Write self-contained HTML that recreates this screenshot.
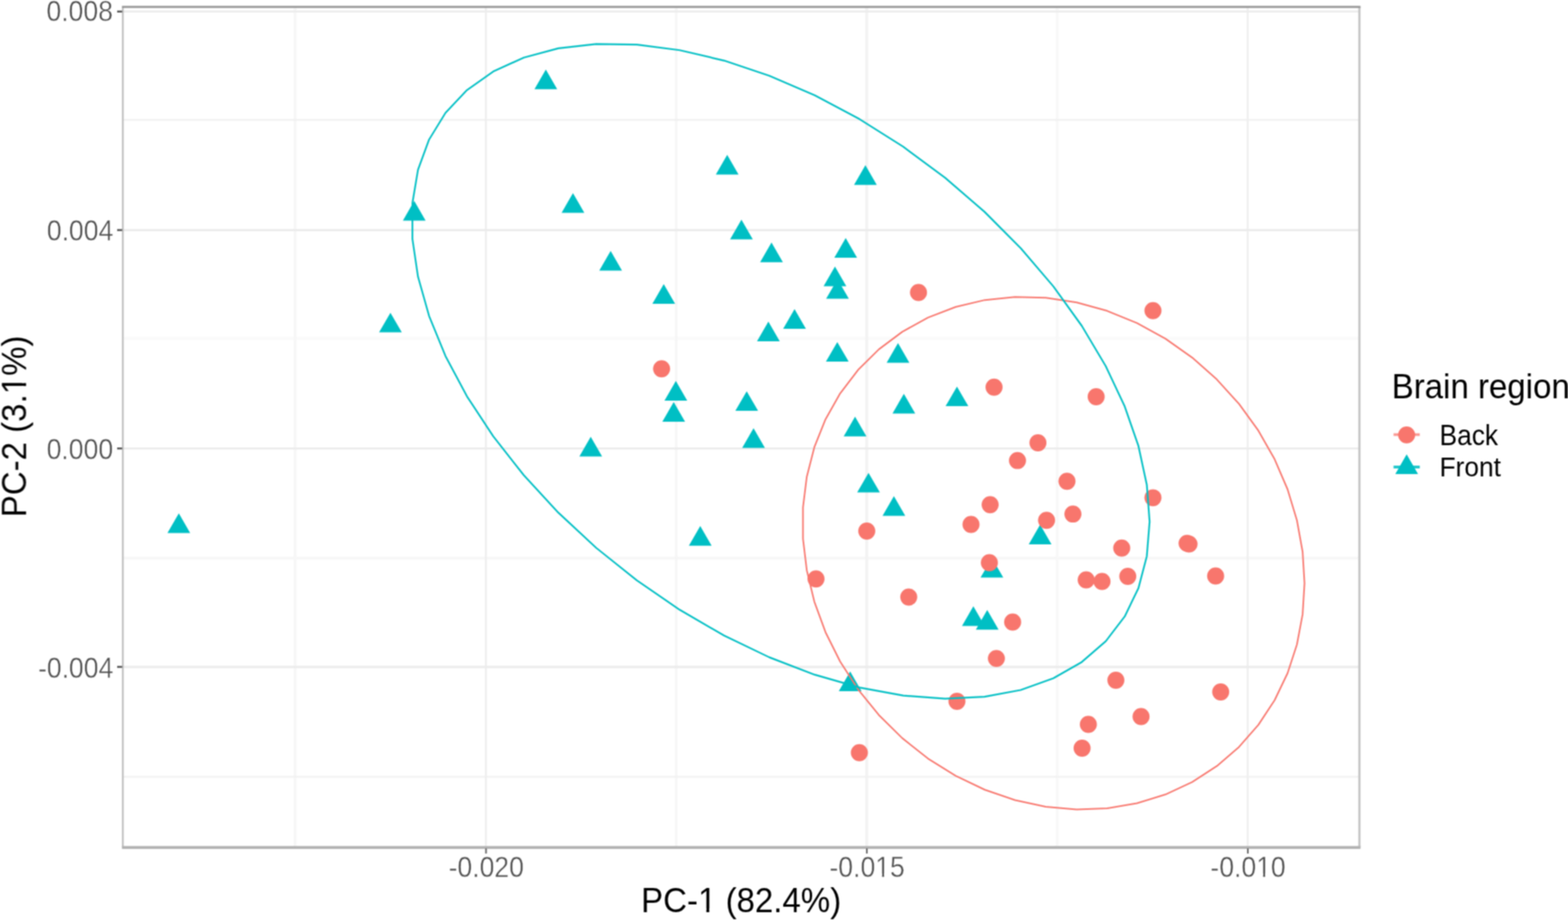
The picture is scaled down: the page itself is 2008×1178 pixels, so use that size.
<!DOCTYPE html>
<html lang="en"><head><meta charset="utf-8"><title>PCA plot</title>
<style>html,body{margin:0;padding:0;background:#fff}body{width:2008px;height:1178px;overflow:hidden}svg{display:block}text{font-family:"Liberation Sans",Arial,Helvetica,sans-serif}</style></head><body>
<svg width="2008" height="1178" viewBox="0 0 2008 1178">
<rect x="0" y="0" width="2008" height="1178" fill="#fff"/>
<defs><filter id="soft" x="0" y="0" width="2008" height="1178" filterUnits="userSpaceOnUse" color-interpolation-filters="sRGB"><feConvolveMatrix order="3" kernelMatrix="1 2 1 2 4 2 1 2 1" divisor="16" edgeMode="duplicate" preserveAlpha="false"/></filter></defs>
<g id="plot" filter="url(#soft)">
<g fill="none">
<line x1="157.5" y1="433.4" x2="1741.2" y2="433.4" stroke="#FAFAFA" stroke-width="3.6"/>
<line x1="1353.7" y1="8.6" x2="1353.7" y2="1084.7" stroke="#F8F8F8" stroke-width="3.8"/>
<line x1="377.9" y1="8.6" x2="377.9" y2="1084.7" stroke="#F7F7F7" stroke-width="3.8"/>
<line x1="157.5" y1="714.6" x2="1741.2" y2="714.6" stroke="#F7F7F7" stroke-width="3.8"/>
<line x1="866.0" y1="8.6" x2="866.0" y2="1084.7" stroke="#F5F5F5" stroke-width="3.0"/>
<line x1="1109.9" y1="8.6" x2="1109.9" y2="1084.7" stroke="#F3F3F3" stroke-width="3.8"/>
<line x1="157.5" y1="994.6" x2="1741.2" y2="994.6" stroke="#F2F2F2" stroke-width="2.2"/>
<line x1="1597.8" y1="8.6" x2="1597.8" y2="1084.7" stroke="#EFEFEF" stroke-width="2.6"/>
<line x1="157.5" y1="153.5" x2="1741.2" y2="153.5" stroke="#EFEFEF" stroke-width="1.8"/>
<line x1="622.2" y1="8.6" x2="622.2" y2="1084.7" stroke="#EEEEEE" stroke-width="2.4"/>
<line x1="157.5" y1="14.8" x2="1741.2" y2="14.8" stroke="#ECECEC" stroke-width="2.6"/>
<line x1="157.5" y1="853.9" x2="1741.2" y2="853.9" stroke="#ECECEC" stroke-width="3.0"/>
<line x1="157.5" y1="294.6" x2="1741.2" y2="294.6" stroke="#EBEBEB" stroke-width="2.6"/>
<line x1="157.5" y1="574.2" x2="1741.2" y2="574.2" stroke="#EBEBEB" stroke-width="2.6"/>
</g>
<g fill="#00BFC4">
<polygon points="229.00,657.20 243.55,682.40 214.45,682.40"/>
<polygon points="500.00,400.40 514.55,425.60 485.45,425.60"/>
<polygon points="530.50,257.20 545.05,282.40 515.95,282.40"/>
<polygon points="699.00,89.00 713.55,114.20 684.45,114.20"/>
<polygon points="733.75,247.20 748.30,272.40 719.20,272.40"/>
<polygon points="756.50,559.20 771.05,584.40 741.95,584.40"/>
<polygon points="782.00,321.20 796.55,346.40 767.45,346.40"/>
<polygon points="850.00,363.70 864.55,388.90 835.45,388.90"/>
<polygon points="865.50,487.70 880.05,512.90 850.95,512.90"/>
<polygon points="862.75,514.70 877.30,539.90 848.20,539.90"/>
<polygon points="896.75,673.50 911.30,698.70 882.20,698.70"/>
<polygon points="931.25,198.20 945.80,223.40 916.70,223.40"/>
<polygon points="949.50,281.20 964.05,306.40 934.95,306.40"/>
<polygon points="956.25,500.90 970.80,526.10 941.70,526.10"/>
<polygon points="965.00,548.20 979.55,573.40 950.45,573.40"/>
<polygon points="984.00,411.80 998.55,437.00 969.45,437.00"/>
<polygon points="988.00,310.60 1002.55,335.80 973.45,335.80"/>
<polygon points="1017.50,395.80 1032.05,421.00 1002.95,421.00"/>
<polygon points="1069.25,341.20 1083.80,366.40 1054.70,366.40"/>
<polygon points="1072.50,357.40 1087.05,382.60 1057.95,382.60"/>
<polygon points="1072.25,437.90 1086.80,463.10 1057.70,463.10"/>
<polygon points="1083.00,304.80 1097.55,330.00 1068.45,330.00"/>
<polygon points="1088.75,859.70 1103.30,884.90 1074.20,884.90"/>
<polygon points="1095.00,533.60 1109.55,558.80 1080.45,558.80"/>
<polygon points="1108.25,211.50 1122.80,236.70 1093.70,236.70"/>
<polygon points="1112.25,605.40 1126.80,630.60 1097.70,630.60"/>
<polygon points="1144.75,635.20 1159.30,660.40 1130.20,660.40"/>
<polygon points="1150.00,439.20 1164.55,464.40 1135.45,464.40"/>
<polygon points="1157.50,504.20 1172.05,529.40 1142.95,529.40"/>
<polygon points="1225.50,494.90 1240.05,520.10 1210.95,520.10"/>
<polygon points="1246.50,776.20 1261.05,801.40 1231.95,801.40"/>
<polygon points="1264.25,781.00 1278.80,806.20 1249.70,806.20"/>
<polygon points="1270.25,714.40 1284.80,739.60 1255.70,739.60"/>
<polygon points="1332.00,671.80 1346.55,697.00 1317.45,697.00"/>
</g>
<g fill="#F8766D">
<circle cx="847.25" cy="472.25" r="10.9"/>
<circle cx="1045" cy="741.25" r="10.9"/>
<circle cx="1100.5" cy="963.75" r="10.9"/>
<circle cx="1110" cy="680" r="10.9"/>
<circle cx="1163.75" cy="764.5" r="10.9"/>
<circle cx="1176.25" cy="374.5" r="10.9"/>
<circle cx="1225.5" cy="898" r="10.9"/>
<circle cx="1243.5" cy="671.5" r="10.9"/>
<circle cx="1268" cy="646.25" r="10.9"/>
<circle cx="1267" cy="720.5" r="10.9"/>
<circle cx="1273" cy="495.75" r="10.9"/>
<circle cx="1276" cy="843.1" r="10.9"/>
<circle cx="1296.8" cy="796.5" r="10.9"/>
<circle cx="1303" cy="589.7" r="10.9"/>
<circle cx="1329.2" cy="567" r="10.9"/>
<circle cx="1340.25" cy="666.25" r="10.9"/>
<circle cx="1366.4" cy="616.25" r="10.9"/>
<circle cx="1374" cy="658.2" r="10.9"/>
<circle cx="1385.75" cy="958" r="10.9"/>
<circle cx="1391" cy="742.5" r="10.9"/>
<circle cx="1393.75" cy="927.5" r="10.9"/>
<circle cx="1403.75" cy="508" r="10.9"/>
<circle cx="1411.25" cy="744.5" r="10.9"/>
<circle cx="1429" cy="871" r="10.9"/>
<circle cx="1436.5" cy="701.75" r="10.9"/>
<circle cx="1444.25" cy="738" r="10.9"/>
<circle cx="1461.25" cy="917.5" r="10.9"/>
<circle cx="1476.5" cy="397.75" r="10.9"/>
<circle cx="1476.5" cy="637.3" r="10.9"/>
<circle cx="1520.2" cy="695.6" r="10.9"/>
<circle cx="1522.7" cy="696.6" r="10.9"/>
<circle cx="1556.75" cy="737.5" r="10.9"/>
<circle cx="1563.25" cy="886" r="10.9"/>
</g>
<path d="M1670.58,746.88 L1668.14,786.64 L1660.87,825.22 L1648.87,862.03 L1632.33,896.51 L1611.50,928.13 L1586.69,956.42 L1558.28,980.95 L1526.70,1001.34 L1492.42,1017.29 L1455.98,1028.56 L1417.91,1034.97 L1378.81,1036.43 L1339.25,1032.92 L1299.84,1024.48 L1261.18,1011.25 L1223.86,993.42 L1188.43,971.28 L1155.44,945.14 L1125.39,915.42 L1098.73,882.56 L1075.86,847.05 L1057.14,809.44 L1042.84,770.29 L1033.19,730.21 L1028.32,689.79 L1028.32,649.66 L1033.19,610.41 L1042.84,572.64 L1057.14,536.93 L1075.86,503.82 L1098.73,473.81 L1125.39,447.35 L1155.44,424.84 L1188.43,406.64 L1223.86,393.00 L1261.18,384.15 L1299.84,380.20 L1339.25,381.23 L1378.81,387.22 L1417.91,398.08 L1455.98,413.63 L1492.42,433.66 L1526.70,457.84 L1558.28,485.82 L1586.69,517.18 L1611.50,551.43 L1632.33,588.06 L1648.87,626.51 L1660.87,666.20 L1668.14,706.52Z" fill="none" stroke="#F8766D" stroke-width="2.0" stroke-linejoin="round"/>
<path d="M1472.21,667.88 L1468.62,712.20 L1457.94,752.92 L1440.30,789.44 L1415.99,821.19 L1385.36,847.70 L1348.89,868.56 L1307.13,883.46 L1260.71,892.17 L1210.33,894.56 L1156.76,890.59 L1100.81,880.33 L1043.33,863.92 L985.18,841.63 L927.26,813.77 L870.43,780.79 L815.57,743.18 L763.50,701.50 L715.00,656.39 L670.83,608.54 L631.64,558.67 L598.03,507.53 L570.51,455.90 L549.49,404.57 L535.30,354.30 L528.15,305.87 L528.15,260.01 L535.30,217.41 L549.49,178.72 L570.51,144.52 L598.03,115.33 L631.64,91.60 L670.83,73.69 L715.00,61.86 L763.50,56.30 L815.57,57.09 L870.43,64.22 L927.26,77.58 L985.18,96.97 L1043.33,122.09 L1100.81,152.56 L1156.76,187.93 L1210.33,227.65 L1260.71,271.12 L1307.13,317.69 L1348.89,366.65 L1385.36,417.25 L1415.99,468.73 L1440.30,520.31 L1457.94,571.21 L1468.62,620.65Z" fill="none" stroke="#00BFC4" stroke-width="2.2" stroke-linejoin="round"/>
<line x1="157.3" y1="8.9" x2="157.3" y2="1085.1" stroke="#BDBDBD" stroke-width="2.2"/>
<line x1="1740.9" y1="8.9" x2="1740.9" y2="1085.1" stroke="#C3C3C3" stroke-width="2.8"/>
<line x1="156.20000000000002" y1="8.9" x2="1742.3000000000002" y2="8.9" stroke="#989898" stroke-width="2.8"/>
<line x1="156.20000000000002" y1="1085.1" x2="1742.3000000000002" y2="1085.1" stroke="#B3B3B3" stroke-width="3.7"/>
<g fill="none">
<line x1="622.4" y1="1086.3" x2="622.4" y2="1092.8999999999999" stroke="#666666" stroke-width="2.1"/>
<line x1="1110.1" y1="1086.3" x2="1110.1" y2="1092.8999999999999" stroke="#666666" stroke-width="2.1"/>
<line x1="1598.0" y1="1086.3" x2="1598.0" y2="1092.8999999999999" stroke="#666666" stroke-width="2.1"/>
<line x1="150.0" y1="14.8" x2="156.5" y2="14.8" stroke="#555555" stroke-width="2.5"/>
<line x1="150.0" y1="294.6" x2="156.5" y2="294.6" stroke="#555555" stroke-width="2.5"/>
<line x1="150.0" y1="574.2" x2="156.5" y2="574.2" stroke="#555555" stroke-width="2.5"/>
<line x1="150.0" y1="853.9" x2="156.5" y2="853.9" stroke="#555555" stroke-width="2.5"/>
</g>
<g fill="#4D4D4D" stroke="#fff" stroke-width="0.45" font-size="34.0px">
<g transform="translate(622.7,1122.6) scale(1,1.07)"><text text-anchor="middle">-0.020</text></g>
<g transform="translate(1110.4,1122.6) scale(1,1.07)"><text text-anchor="middle">-0.015</text><rect x="12.37" y="-3.54" width="6.56" height="4.24" fill="#fff"/><rect x="21.93" y="-3.54" width="6.29" height="4.24" fill="#fff"/></g>
<g transform="translate(1598.3,1122.6) scale(1,1.07)"><text text-anchor="middle">-0.010</text><rect x="12.37" y="-3.54" width="6.56" height="4.24" fill="#fff"/><rect x="21.93" y="-3.54" width="6.29" height="4.24" fill="#fff"/></g>
<g transform="translate(144.6,27.3) scale(1,1.07)"><text text-anchor="end">0.008</text></g>
<g transform="translate(145.1,308.3) scale(1,1.07)"><text text-anchor="end">0.004</text></g>
<g transform="translate(144.8,587.9) scale(1,1.07)"><text text-anchor="end">0.000</text></g>
<g transform="translate(145.1,867.6) scale(1,1.07)"><text text-anchor="end">-0.004</text></g>
</g>
<g fill="#000" font-size="42.3px">
<g transform="translate(949.2,1167.9) scale(1,1.065)"><text text-anchor="middle">PC-1 (82.4%)</text><rect x="-52.79" y="-4.16" width="8.16" height="4.86" fill="#fff"/><rect x="-40.89" y="-4.16" width="7.83" height="4.86" fill="#fff"/></g>
<g transform="translate(33,546) rotate(-90) scale(1,1.065)"><text text-anchor="middle">PC-2 (3.1%)</text><rect x="43.58" y="-4.16" width="8.16" height="4.86" fill="#fff"/><rect x="55.48" y="-4.16" width="7.83" height="4.86" fill="#fff"/></g>
<g transform="translate(1782.2,510.2) scale(1,1.065)"><text text-anchor="start">Brain region</text></g>
</g>
<g fill="#000" font-size="33.8px">
<g transform="translate(1843.4,569.9) scale(1,1.075)"><text text-anchor="start">Back</text></g>
<g transform="translate(1843.4,609.5) scale(1,1.045)"><text text-anchor="start">Front</text></g>
</g>
<line x1="1784.6" y1="556.5" x2="1818.2" y2="556.5" stroke="#F8766D" stroke-opacity="0.72" stroke-width="3.4"/>
<circle cx="1801.35" cy="556.85" r="10.9" fill="#F8766D"/>
<line x1="1784.6" y1="598.0" x2="1818.2" y2="598.0" stroke="#00BFC4" stroke-opacity="0.9" stroke-width="3.6"/>
<polygon points="1801.40,581.70 1815.95,606.90 1786.85,606.90" fill="#00BFC4"/>
</g>
</svg></body></html>
